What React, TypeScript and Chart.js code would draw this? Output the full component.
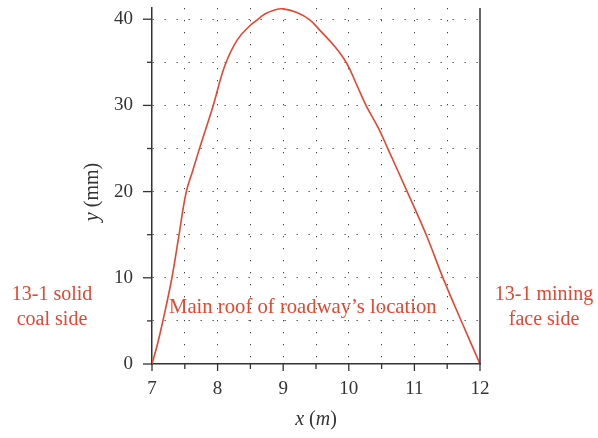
import React, { useEffect, useRef } from "react";
import { Chart, registerables } from "chart.js";

Chart.register(...registerables);

const xValues = [7, 7.08, 7.163, 7.3, 7.41, 7.52, 7.62, 7.72, 7.93, 8.11, 8.3, 8.5, 8.6, 8.72, 8.86, 9.0, 9.2, 9.41, 9.56, 9.79, 9.97, 10.12, 10.27, 10.45, 10.6, 10.89, 11.18, 11.44, 11.72, 12];
const yValues = [0, 2.2, 4.9, 9.86, 14.9, 19.9, 22.4, 24.9, 29.9, 34.6, 37.6, 39.3, 39.9, 40.6, 41.05, 41.2, 40.8, 39.9, 38.7, 36.8, 34.86, 32.4, 29.9, 27.4, 24.9, 20.0, 15.0, 9.9, 4.9, 0];

const xTicks = [7, 7.5, 8, 8.5, 9, 9.5, 10, 10.5, 11, 11.5, 12];
const yTicks = [0, 5, 10, 15, 20, 25, 30, 35, 40];

const leftNote = ["13-1 solid", "coal side"];
const rightNote = ["13-1 mining", "face side"];
const centerNote = "Main roof of roadway\u2019s location";

const RED = "#e8452f";
const AXIS = "#333333";
const FONT = "'Liberation Serif', 'DejaVu Serif', serif";

const overlay = {
  id: "overlay",
  afterDraw(chart: any) {
    const { ctx, chartArea } = chart;
    const xs = chart.scales.x;
    const ys = chart.scales.y;
    ctx.save();
    ctx.strokeStyle = AXIS;
    ctx.lineWidth = 1.5;
    ctx.beginPath();
    ctx.moveTo(chartArea.right, chartArea.top);
    ctx.lineTo(chartArea.right, chartArea.bottom);
    ctx.stroke();
    ctx.lineWidth = 1.3;
    yTicks.forEach((v) => {
      const p = ys.getPixelForValue(v);
      const len = v % 10 === 0 ? 9 : 5;
      ctx.beginPath();
      ctx.moveTo(chartArea.left - len, p);
      ctx.lineTo(chartArea.left, p);
      ctx.stroke();
    });
    xTicks.forEach((v) => {
      const p = xs.getPixelForValue(v);
      const len = Number.isInteger(v) ? 7 : 5;
      ctx.beginPath();
      ctx.moveTo(p, chartArea.bottom);
      ctx.lineTo(p, chartArea.bottom + len);
      ctx.stroke();
    });
    ctx.fillStyle = RED;
    ctx.font = `20px ${FONT}`;
    ctx.textAlign = "center";
    ctx.textBaseline = "alphabetic";
    leftNote.forEach((t, i) => ctx.fillText(t, 52, 300 + i * 25));
    rightNote.forEach((t, i) => ctx.fillText(t, 544, 300 + i * 25));
    ctx.textAlign = "left";
    ctx.font = `20.7px ${FONT}`;
    ctx.fillText(centerNote, 169, 313);
    ctx.fillStyle = AXIS;
    const drawMixed = (parts: [string, boolean][], cx: number, cy: number, rot: boolean) => {
      ctx.save();
      ctx.translate(cx, cy);
      if (rot) ctx.rotate(-Math.PI / 2);
      let total = 0;
      const widths = parts.map(([t, it]) => {
        ctx.font = `${it ? "italic " : ""}20px ${FONT}`;
        const w = ctx.measureText(t).width;
        total += w;
        return w;
      });
      let x = -total / 2;
      ctx.textAlign = "left";
      parts.forEach(([t, it], i) => {
        ctx.font = `${it ? "italic " : ""}20px ${FONT}`;
        ctx.fillText(t, x, 0);
        x += widths[i];
      });
      ctx.restore();
    };
    drawMixed([["x", true], [" (", false], ["m", true], [")", false]], 316, 425, false);
    drawMixed([["y", true], [" (mm)", false]], 98, 192, true);
    ctx.restore();
  },
};

export default function App() {
  const ref = useRef<HTMLCanvasElement>(null);
  useEffect(() => {
    if (!ref.current) return;
    const chart = new Chart(ref.current, {
      type: "line",
      data: {
        datasets: [
          {
            data: xValues.map((x, i) => ({ x, y: yValues[i] })),
            borderColor: RED,
            borderWidth: 1.6,
            pointRadius: 0,
            tension: 0.4,
            fill: false,
          },
        ],
      },
      options: {
        animation: false,
        responsive: false,
        maintainAspectRatio: false,
        layout: { padding: { left: 0, right: 118, top: 8, bottom: 0 } },
        plugins: { legend: { display: false }, tooltip: { enabled: false } },
        scales: {
          x: {
            type: "linear",
            min: 7,
            max: 12,
            afterBuildTicks: (s: any) => {
              s.ticks = xTicks.map((v) => ({ value: v }));
            },
            afterFit: (s: any) => {
              s.height = 74;
              s.paddingLeft = 0;
              s.paddingRight = 0;
            },
            ticks: {
              padding: 14,
              color: AXIS,
              font: { family: FONT, size: 19 },
              maxRotation: 0,
              autoSkip: false,
              callback: (v: any) => (Number.isInteger(v) ? String(v) : ""),
            },
            grid: {
              drawTicks: false,
              color: (c: any) => (c.tick && (c.tick.value === 7 || c.tick.value === 12) ? "rgba(0,0,0,0)" : "#444"),
              lineWidth: 1,
            },
            border: { display: true, color: AXIS, width: 1.5, dash: [1.3, 10.7] },
          },
          y: {
            type: "linear",
            min: 0,
            max: 41.3,
            afterBuildTicks: (s: any) => {
              s.ticks = yTicks.map((v) => ({ value: v }));
            },
            afterFit: (s: any) => {
              s.width = 152;
              s.paddingTop = 0;
              s.paddingBottom = 0;
            },
            ticks: {
              padding: 19,
              color: AXIS,
              font: { family: FONT, size: 19 },
              autoSkip: false,
              callback: (v: any) => (v % 10 === 0 ? String(v) : ""),
            },
            grid: {
              drawTicks: false,
              color: (c: any) => (c.tick && c.tick.value === 0 ? "rgba(0,0,0,0)" : "#444"),
              lineWidth: 1,
            },
            border: { display: true, color: AXIS, width: 1.5, dash: [1.3, 10.7] },
          },
        },
      },
      plugins: [overlay],
    });
    return () => chart.destroy();
  }, []);
  return (
    <div style={{ position: "fixed", left: 0, top: 0, width: 598, height: 438 }}>
      <canvas ref={ref} width={598} height={438} style={{ width: 598, height: 438 }} />
    </div>
  );
}
